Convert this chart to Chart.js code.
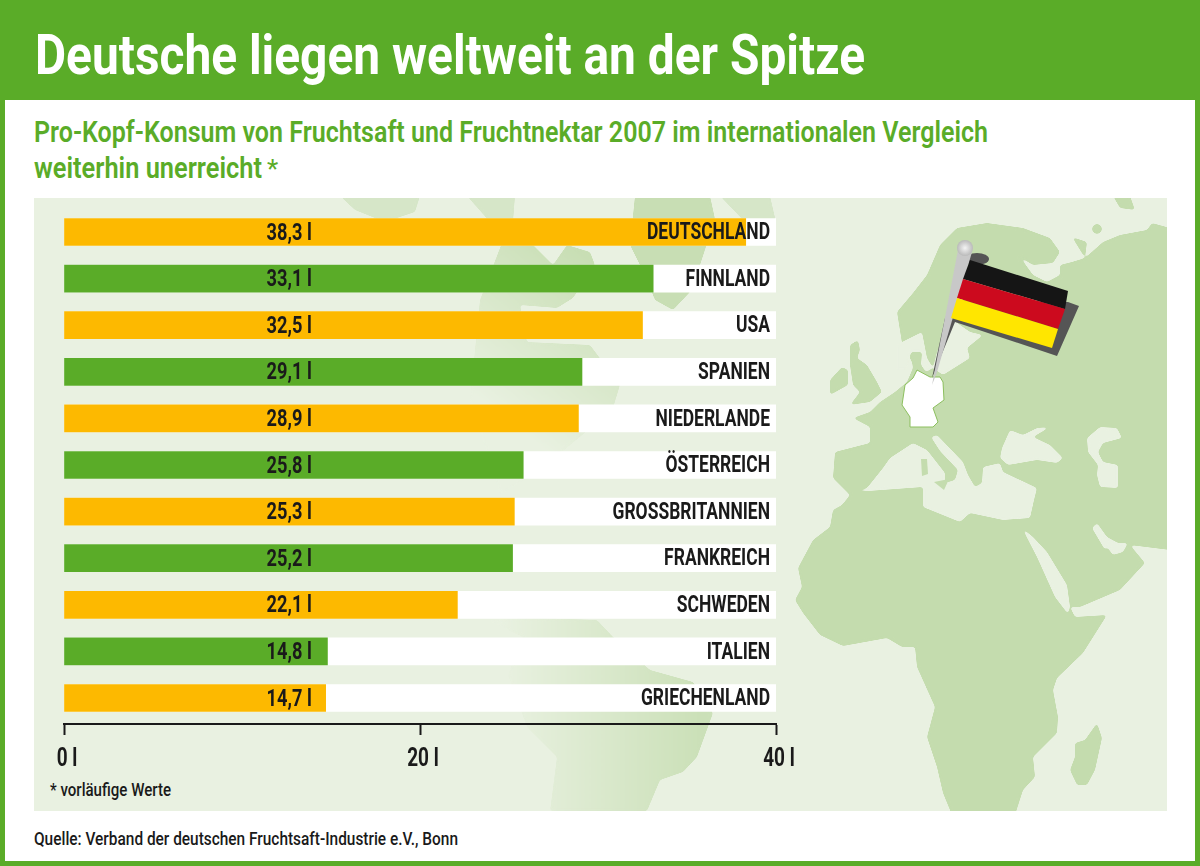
<!DOCTYPE html>
<html lang="de">
<head>
<meta charset="utf-8">
<title>Deutsche liegen weltweit an der Spitze</title>
<script src="https://cdn.jsdelivr.net/npm/chart.js@4/dist/chart.umd.min.js"></script>
<style>
  html, body { margin: 0; padding: 0; background: #fff; }
  .page { position: relative; width: 1200px; height: 866px; overflow: hidden; }
  .page svg, .page canvas { position: absolute; left: 0; top: 0; }
  text { font-family: Roboto, "DejaVu Sans Condensed", sans-serif; font-weight: 700; }
</style>
</head>
<body>
<div class="page">
  <svg width="1200" height="866" viewBox="0 0 1200 866">
    <defs>
      <linearGradient id="fadeSouth" gradientUnits="userSpaceOnUse" x1="500" y1="0" x2="700" y2="0">
        <stop offset="0" stop-color="#e9f1e1"/><stop offset="1" stop-color="#cbe0b8"/>
      </linearGradient>
      <linearGradient id="fadeNorth" gradientUnits="userSpaceOnUse" x1="480" y1="400" x2="590" y2="260">
        <stop offset="0" stop-color="#e9f1e1"/><stop offset="1" stop-color="#c8deb4"/>
      </linearGradient>
      <radialGradient id="ball" cx="0.5" cy="0.5" r="0.55">
        <stop offset="0" stop-color="#f4f4f4"/><stop offset="1" stop-color="#b4b4b4"/>
      </radialGradient>
      <clipPath id="panelClip"><rect x="34" y="198" width="1133" height="613"/></clipPath>
      <!-- rounds off the corners of the hand traced coast lines -->
      <filter id="soft" x="-5%" y="-5%" width="110%" height="110%" color-interpolation-filters="sRGB">
        <feGaussianBlur stdDeviation="1.6" result="b"/>
        <feComponentTransfer><feFuncA type="linear" slope="7" intercept="-3"/></feComponentTransfer>
      </filter>
    </defs>

    <!-- frame -->
    <rect width="1200" height="866" fill="#5aac28"/>
    <rect x="5" y="100" width="1190" height="761" fill="#fff"/>
    <rect x="34" y="198" width="1133" height="613" fill="#e9f1e1"/>

    <!-- background map -->
    <g clip-path="url(#panelClip)" stroke-linejoin="round">
      <g fill="#d6e6c8" filter="url(#soft)">
        <path d="M340,196 L420,196 L415,212 L385,222 L355,210 Z"/>
        <path d="M467,196 L515,196 L513,222 L490,222 Z"/>
        <path d="M720,196 L770,196 L776,222 L745,222 Z"/>
      </g>
      <path fill="url(#fadeNorth)" filter="url(#soft)" d="M510,222 L533,245 L553,265 L567,245 L590,252 L595,265 L573,298 L557,308 L520,305 L527,342 L590,345 L620,385 L613,408 L587,431 L540,470 L500,495 L470,400 L480,300 Z"/>
      <path fill="#c8deb4" filter="url(#soft)" d="M635,196 L710,196 L715,219 L700,265 L690,292 L673,310 L655,300 L645,275 L630,245 Z"/>
      <path fill="url(#fadeSouth)" d="M487,620 L533,618 L597,620 L613,637 L650,670 L693,682 L713,713 L697,757 L683,772 L660,780 L647,811 L550,811 L557,757 L527,727 L508,675 L523,637 Z" filter="url(#soft)"/>

      <g fill="#c4dcae" filter="url(#soft)">
        <!-- Eurasia and Africa -->
        <path d="M835,452 L833,478 L843,488 L850,495 L842,505 L833,510 L830,527 L813,540 L798,568 L802,587 L795,600 L803,613 L820,635 L843,646 L887,638 L902,647 L915,647 L917,667 L935,707 L927,737 L937,767 L943,793 L952,815 L1015,815 L1023,790 L1035,777 L1033,757 L1057,733 L1058,717 L1053,690 L1057,678 L1083,653 L1107,615 L1075,617 L1070,607 L1080,607 L1120,590 L1145,563 L1130,545 L1170,550 L1170,228 L1152,223 L1147,230 L1120,235 L1103,242 L1085,258 L1087,242 L1072,237 L1085,258 L1072,262 L1060,265 L1060,275 L1047,282 L1033,275 L1020,257 L1033,265 L1053,263 L1060,252 L1050,238 L1023,228 L987,223 L957,228 L940,245 L927,275 L913,293 L897,312 L902,343 L912,362 L913,368 L907,382 L895,392 L880,402 L870,412 L853,418 L870,427 L870,443 Z"/>
        <!-- islands -->
        <path d="M850,345 L858,340 L860,350 L857,358 L867,365 L877,382 L882,392 L870,402 L850,405 L860,392 L853,385 L850,365 Z"/>
        <path d="M830,380 L842,367 L848,370 L848,385 L830,395 Z"/>
        <path d="M1075,743 L1085,740 L1097,723 L1102,738 L1095,770 L1087,785 L1077,785 L1070,770 L1075,757 Z"/>
        <path d="M1113,196 L1130,196 L1135,210 L1120,208 Z"/>
        <circle cx="1097" cy="229" r="5"/>
      </g>

      <g fill="#e9f1e1" filter="url(#soft)">
        <!-- Ostsee, Kattegat -->
        <path d="M937,352 L947,328 L953,320 L970,332 L983,335 L967,348 L970,358 L943,375 L933,368 Z"/>
        <path d="M896,345 L922,332 L927,358 L933,368 L926,372 L921,365 L922,352 L911,352 L907,370 L896,370 Z"/>
        <!-- Mittelmeer -->
        <path d="M855,492 L867,488 L883,468 L890,458 L913,443 L927,450 L945,473 L945,483 L955,480 L958,470 L940,451 L931,437 L937,435 L963,462 L968,475 L975,487 L982,483 L983,467 L1000,463 L1003,472 L1037,488 L1034,500 L1030,518 L1003,520 L970,513 L960,522 L923,507 L923,487 Z"/>
        <!-- Schwarzes Meer, Kaspisches Meer -->
        <path d="M1002,448 L1010,430 L1023,435 L1037,428 L1050,427 L1033,437 L1050,445 L1063,458 L1057,463 L1037,460 L1008,465 L1000,458 Z"/>
        <path d="M1087,438 L1100,427 L1117,428 L1122,438 L1103,443 L1098,452 L1103,462 L1118,465 L1118,488 L1100,487 L1097,475 L1098,465 L1088,452 Z"/>
        <!-- Rotes Meer, Persischer Golf -->
        <path d="M1022,528 L1033,537 L1047,552 L1067,585 L1070,607 L1068,614 L1055,597 L1037,557 Z"/>
        <path d="M1092,528 L1097,523 L1107,537 L1118,543 L1128,543 L1123,552 L1113,555 L1107,547 L1105,550 Z"/>
      </g>
      <!-- Sizilien, Sardinien -->
      <path fill="#c4dcae" d="M934,482 L949,479 L944,490 Z"/>
      <path fill="#c4dcae" d="M921,459 L927,459 L928,474 L922,476 Z"/>

      <!-- Deutschland -->
      <path fill="#fff" stroke="#8cbf5e" stroke-width="1" d="M917,370 L930,377 L940,377 L943,382 L944,400 L933,408 L938,422 L933,427 L910,427 L910,417 L902,405 L905,385 L913,378 Z"/>
      <!-- Flagge -->
      <ellipse cx="977" cy="259" rx="12" ry="6" fill="#555"/>
      <path fill="#555" d="M1068,302 L1079,306 L1057,356 L955,322 L932,378 L945,318 L958,300 Z"/>
      <path fill="#c8c8c8" d="M958,250 L972,252 L937,372 L932,385 Z"/>
      <circle cx="965" cy="248" r="8" fill="url(#ball)"/>
      <path fill="#151515" d="M970,260 L1068,291 L1065,309 L963,279 Z"/>
      <path fill="#cc0a1e" d="M963,279 L1065,309 L1058,329 L957,298 Z"/>
      <path fill="#ffe600" d="M957,298 L1058,329 L1052,348 L951,318 Z"/>
    </g>

    <!-- texts -->
    <text x="35" y="74" fill="#fff" font-size="55" textLength="830" lengthAdjust="spacingAndGlyphs">Deutsche liegen weltweit an der Spitze</text>
    <text x="34" y="142" fill="#5aac28" font-size="29" style="font-weight:600" textLength="954" lengthAdjust="spacingAndGlyphs">Pro-Kopf-Konsum von Fruchtsaft und Fruchtnektar 2007 im internationalen Vergleich</text>
    <text x="34" y="178" fill="#5aac28" font-size="29" style="font-weight:600" textLength="228" lengthAdjust="spacingAndGlyphs">weiterhin unerreicht</text>
    <text x="267" y="178" fill="#5aac28" font-size="26" style="font-weight:400">*</text>
    <text x="50" y="796" fill="#1a1a1a" font-size="18" style="font-weight:500" textLength="121" lengthAdjust="spacingAndGlyphs">* vorläufige Werte</text>
    <text x="34" y="845" fill="#1a1a1a" font-size="18" style="font-weight:500" textLength="424" lengthAdjust="spacingAndGlyphs">Quelle: Verband der deutschen Fruchtsaft-Industrie e.V., Bonn</text>
  </svg>
  <canvas id="chart" width="1200" height="866"></canvas>
</div>
<script>
(() => {
  const categories = ['DEUTSCHLAND', 'FINNLAND', 'USA', 'SPANIEN', 'NIEDERLANDE', 'ÖSTERREICH', 'GROSSBRITANNIEN', 'FRANKREICH', 'SCHWEDEN', 'ITALIEN', 'GRIECHENLAND'];
  const litres = [38.3, 33.1, 32.5, 29.1, 28.9, 25.8, 25.3, 25.2, 22.1, 14.8, 14.7];
  const track = [40, 40, 40, 40, 40, 40, 40, 40, 40, 40, 40];
  const barColors = ['#fdb900', '#5aac28', '#fdb900', '#5aac28', '#fdb900', '#5aac28', '#fdb900', '#5aac28', '#fdb900', '#5aac28', '#fdb900'];

  const FONT = 'Roboto, "DejaVu Sans Condensed", sans-serif';
  const INK = '#1a1a1a';
  const TEXT_SQUEEZE = 0.76; // no condensed face is installed, so narrow the canvas text

  const canvas = document.getElementById('chart');
  const context = canvas.getContext('2d');
  const rawFillText = context.fillText.bind(context);
  context.fillText = (text, x, y) => {
    context.save();
    context.translate(x, context.textBaseline === 'middle' ? y + 1.5 : y);
    context.scale(TEXT_SQUEEZE, 1);
    rawFillText(text, 0, 0);
    context.restore();
  };

  const valueLabels = {
    id: 'valueLabels',
    afterDatasetsDraw(chart) {
      const { ctx, scales: { x, y } } = chart;
      ctx.save();
      ctx.font = `700 24px ${FONT}`;
      ctx.fillStyle = INK;
      ctx.textAlign = 'center';
      ctx.textBaseline = 'middle';
      litres.forEach((v, i) => {
        const text = `${v.toFixed(1).replace('.', ',')} l`;
        ctx.fillText(text, x.getPixelForValue(12.65), y.getPixelForValue(i));
      });
      ctx.restore();
    },
  };

  new Chart(canvas, {
    type: 'bar',
    data: {
      labels: categories,
      datasets: [
        { data: track, backgroundColor: '#fff', order: 2, grouped: false, barThickness: 27 },
        { data: litres, backgroundColor: barColors, order: 1, grouped: false, barThickness: 27 },
      ],
    },
    options: {
      indexAxis: 'y',
      responsive: false,
      animation: false,
      devicePixelRatio: 1,
      layout: { autoPadding: false, padding: { left: 64, right: 424, top: 208.7, bottom: 144.7 } },
      plugins: { legend: { display: false }, tooltip: { enabled: false } },
      scales: {
        x: {
          position: { y: 10.56 },
          min: 0,
          max: 40,
          border: { display: true, color: INK, width: 2 },
          grid: { drawOnChartArea: false, drawTicks: true, tickLength: 10, tickColor: INK, tickWidth: 2 },
          ticks: {
            stepSize: 20,
            padding: 9,
            labelOffset: 3,
            color: INK,
            maxRotation: 0,
            font: { family: FONT, size: 25, weight: '700' },
            callback: (v) => `${v} l`,
          },
        },
        y: {
          position: 'right',
          border: { display: false },
          grid: { display: false, drawTicks: false },
          ticks: {
            mirror: true,
            padding: -6,
            z: 1,
            color: INK,
            font: { family: FONT, size: 23, weight: '700' },
          },
        },
      },
    },
    plugins: [valueLabels],
  });
})();
</script>
</body>
</html>
